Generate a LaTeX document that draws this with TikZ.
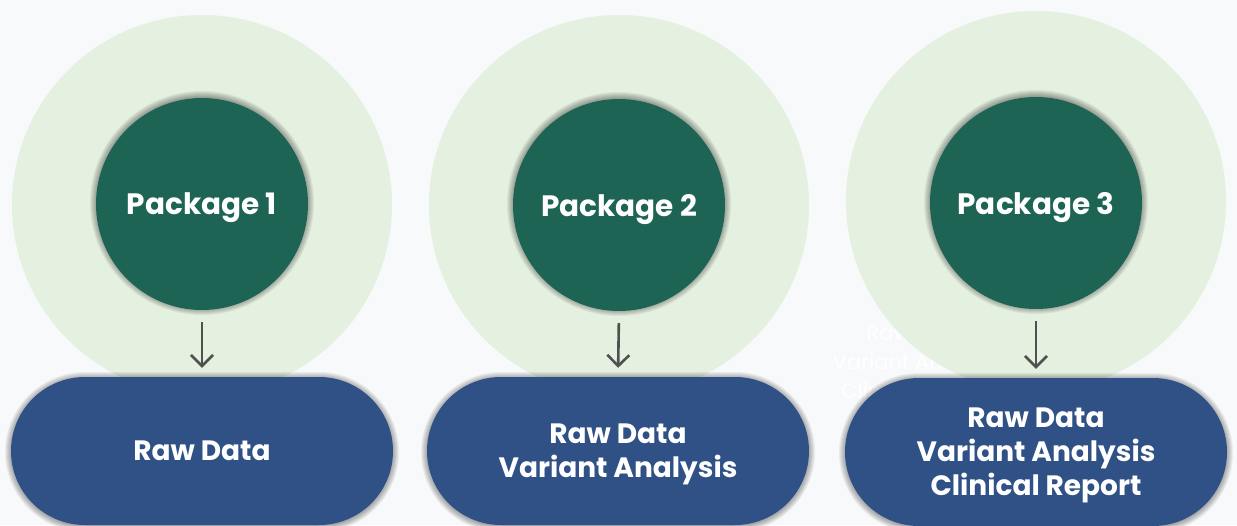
\documentclass[tikz,border=0pt]{standalone}
\usepackage{fontspec}
\setmainfont{Poppins}
\usetikzlibrary{arrows.meta}

\definecolor{pagebg}{HTML}{F8F9FB}
\definecolor{halogreen}{HTML}{E4F0E0}
\definecolor{pine}{HTML}{1D6455}
\definecolor{navy}{HTML}{2F5186}
\definecolor{arrowgray}{HTML}{505050}

\tikzset{
  shadelayer/.style={fill=black, opacity=0.055},
  halo/.style={circle, fill=halogreen, minimum size=380pt, inner sep=0pt},
  core/.style={circle, fill=pine, minimum size=212pt, inner sep=0pt,
      text depth=0pt,
      text=white, font=\fontsize{29.5}{34}\selectfont\bfseries},
  pill/.style={rectangle, rounded corners=74pt, fill=navy,
      minimum width=382pt, minimum height=148pt, inner sep=0pt,
      text depth=0pt,
      text=white, align=center,
      font=\fontsize{28}{34}\selectfont\bfseries},
  flow/.style={draw=arrowgray, line width=2.6pt,
      -{Straight Barb[length=11pt,width=22pt]},
      shorten <=12pt, shorten >=9pt},
  ghost/.style={text=white, align=center,
      font=\fontsize{21}{29}\selectfont}
}

% soft shadow rings under a round package badge
\newcommand\coreshade[1]{%
  \foreach \k in {1,...,7}{%
    \fill[shadelayer] ([yshift=1pt]#1) circle[radius=105+\k];}}
% soft shadow rings under a content capsule
\newcommand\pillshade[1]{%
  \foreach \k in {1,...,7}{%
    \pgfmathsetmacro\rr{73+\k}%
    \fill[shadelayer, rounded corners=\rr pt]
      ([shift={(-190-\k,-73-\k+1)}]#1) rectangle ([shift={(190+\k,73+\k+1)}]#1);}}

\begin{document}
\begin{tikzpicture}[x=1pt, y=-1pt]
  \useasboundingbox (0,0) rectangle (1237,525);
  \clip (0,0) rectangle (1237,525);
  \fill[pagebg] (0,0) rectangle (1237,525);

  % faint label lying behind the third group
  \node[ghost] (ghostlabel) at (917,365)
    {Raw Data\\Variant Analysis\\Clinical Report};

  % outer halos
  \node[halo] (halo1) at (202,205) {};
  \node[halo] (halo2) at (619,205) {};
  \node[halo] (halo3) at (1036,201) {};

  % centres of badges and capsules
  \coordinate (c1) at (202,204);
  \coordinate (c2) at (619,205);
  \coordinate (c3) at (1036,203);
  \coordinate (d1) at (202,451);
  \coordinate (d2) at (618,451);
  \coordinate (d3) at (1036,452);

  % packages
  \coreshade{c1}\coreshade{c2}\coreshade{c3}
  \node[core] (pkg1) at (c1) {Package 1};
  \node[core] (pkg2) at (c2) {Package 2};
  \node[core] (pkg3) at (c3) {Package 3};

  % contents
  \pillshade{d1}\pillshade{d2}\pillshade{d3}
  \node[pill] (out1) at (d1) {Raw Data};
  \node[pill] (out2) at (d2) {Raw Data\\Variant Analysis};
  \node[pill] (out3) at (d3) {Raw Data\\Variant Analysis\\Clinical Report};

  % links
  \draw[flow] (pkg1.south) -- (out1.north);
  \draw[flow] (pkg2.south) -- (out2.north);
  \draw[flow] (pkg3.south) -- (out3.north);
\end{tikzpicture}
\end{document}
